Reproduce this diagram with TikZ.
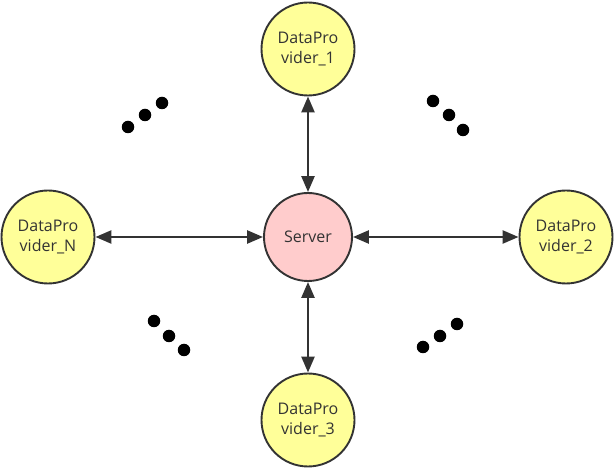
\documentclass[tikz,border=0pt]{standalone}
\usepackage{fontspec}
\setmainfont{Open Sans}
\usetikzlibrary{arrows.meta}
\definecolor{provyellow}{HTML}{FFFF99}
\definecolor{serverpink}{HTML}{FFCCCC}
\definecolor{darkline}{HTML}{333333}

\begin{document}
\begin{tikzpicture}[x=1pt, y=-1pt, >={Triangle[length=16pt, width=13pt]},
    provider/.style={circle, draw=darkline, line width=1.9pt, fill=provyellow, minimum size=93pt, align=center, text=darkline, font=\fontsize{16}{20}\selectfont},
    server/.style={provider, fill=serverpink, minimum size=88pt},
    dot/.style={circle, fill=black, inner sep=0pt, minimum size=12.5pt}]
    \useasboundingbox (0,0) rectangle (614,470);

    % Define vertices
    \node[server] (srv) at (308, 237) {Server};
    \node[provider] (p1) at (308, 49) {DataPro\\vider\_1};
    \node[provider] (p2) at (566, 237) {DataPro\\vider\_2};
    \node[provider] (p3) at (308, 420) {DataPro\\vider\_3};
    \node[provider] (pN) at (48, 237) {DataPro\\vider\_N};

    % Draw edges
    \draw[<->, darkline, line width=2.5pt] (p1) -- (srv); % Edge 1 <-> server
    \draw[<->, darkline, line width=2.5pt] (p2) -- (srv); % Edge 2 <-> server
    \draw[<->, darkline, line width=2.5pt] (p3) -- (srv); % Edge 3 <-> server
    \draw[<->, darkline, line width=2.5pt] (pN) -- (srv); % Edge N <-> server

    % Ellipsis dots
    \foreach \x/\y [count=\i] in {128/127, 145/115, 162/103, 433/101, 449/115, 463/130,
                                  154/321, 169/336, 184/350, 423/347, 440/336, 457/324}
        \node[dot] (d\i) at (\x, \y) {};
\end{tikzpicture}
\end{document}
